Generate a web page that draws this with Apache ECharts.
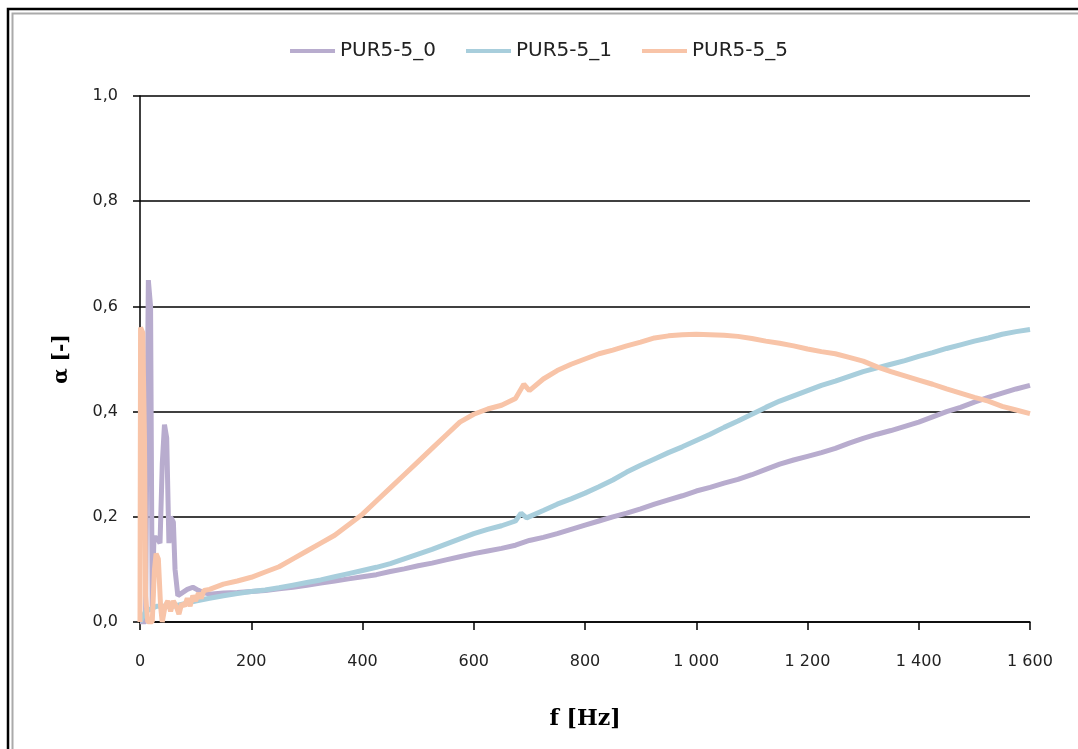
<!DOCTYPE html>
<html>
<head>
<meta charset="utf-8">
<script src="https://cdn.jsdelivr.net/npm/echarts@6/dist/echarts.min.js"></script>
<style>html,body{margin:0;padding:0;background:#fff;}#c{width:1078px;height:749px;}</style>
</head>
<body>
<div id="c"></div>
<script>
// Frequencies [Hz] and absorption coefficient values
const seriesNames = ['PUR5-5_0', 'PUR5-5_1', 'PUR5-5_5'];
const xTicks = [0, 200, 400, 600, 800, 1000, 1200, 1400, 1600];
const yTicks = [0, 0.2, 0.4, 0.6, 0.8, 1.0];

const f0 = [0, 10, 12, 15, 19, 22, 25, 30, 36, 40, 44, 48, 52, 55, 60, 63, 68, 75, 85, 95, 105, 115, 125,
  150, 175, 200, 225, 250, 275, 300, 325, 350, 375, 400, 425, 450, 475, 500, 525, 550, 575, 600, 625, 650, 675,
  700, 725, 750, 775, 800, 825, 850, 875, 900, 925, 950, 975, 1000, 1025, 1050, 1075, 1100, 1125, 1150, 1175,
  1200, 1225, 1250, 1275, 1300, 1325, 1350, 1375, 1400, 1425, 1450, 1475, 1500, 1525, 1550, 1575, 1600];
const a0 = [0, 0, 0.30, 0.65, 0.60, 0.02, 0.16, 0.16, 0.15, 0.30, 0.375, 0.35, 0.15, 0.20, 0.19, 0.10, 0.05, 0.055, 0.062, 0.066, 0.06, 0.056, 0.053,
  0.055, 0.056, 0.058, 0.060, 0.063, 0.066, 0.070, 0.074, 0.078, 0.082, 0.086, 0.090, 0.096, 0.101, 0.107, 0.112, 0.118, 0.124, 0.130, 0.135, 0.140, 0.146,
  0.155, 0.161, 0.168, 0.176, 0.184, 0.192, 0.200, 0.207, 0.215, 0.224, 0.232, 0.240, 0.249, 0.256, 0.264, 0.271, 0.280, 0.290, 0.300, 0.308,
  0.315, 0.322, 0.330, 0.340, 0.349, 0.357, 0.364, 0.372, 0.380, 0.390, 0.400, 0.408, 0.418, 0.427, 0.435, 0.443, 0.450];

const f1 = [0, 10, 30, 60, 80, 100, 125, 150, 175, 200, 225, 250, 275, 300, 325, 350, 375, 400, 425, 450, 475, 500,
  525, 550, 575, 600, 625, 650, 675, 685, 695, 725, 750, 775, 800, 825, 850, 875, 900, 925, 950, 975, 1000, 1025,
  1050, 1075, 1100, 1125, 1150, 1175, 1200, 1225, 1250, 1275, 1300, 1325, 1350, 1375, 1400, 1425, 1450, 1475,
  1500, 1525, 1550, 1575, 1600];
const a1 = [0, 0.02, 0.03, 0.03, 0.035, 0.04, 0.045, 0.050, 0.054, 0.058, 0.061, 0.065, 0.070, 0.075, 0.080, 0.086, 0.092, 0.098, 0.104, 0.111, 0.120, 0.129,
  0.138, 0.148, 0.158, 0.168, 0.176, 0.183, 0.192, 0.207, 0.198, 0.212, 0.224, 0.234, 0.245, 0.257, 0.270, 0.285, 0.298, 0.310, 0.322, 0.333, 0.345, 0.357,
  0.370, 0.382, 0.395, 0.408, 0.420, 0.430, 0.440, 0.450, 0.458, 0.467, 0.476, 0.483, 0.490, 0.497, 0.505, 0.512, 0.520, 0.527,
  0.534, 0.540, 0.547, 0.552, 0.556];

const f5 = [0, 1, 5, 8, 10, 14, 22, 26, 29, 33, 37, 40, 45, 50, 55, 60, 65, 70, 75, 80, 85, 90, 95, 100, 105, 110, 115,
  125, 150, 175, 200, 225, 250, 275, 300, 325, 350, 375, 400, 425, 450, 475, 500, 525, 550, 575, 600, 625, 650, 675,
  690, 700, 725, 750, 775, 800, 825, 850, 875, 900, 925, 950, 975, 1000, 1025, 1050, 1075, 1100, 1125, 1150, 1175,
  1200, 1225, 1250, 1275, 1300, 1325, 1350, 1375, 1400, 1425, 1450, 1475, 1500, 1525, 1550, 1575, 1600];
const a5 = [0, 0.56, 0.55, 0.35, 0.05, 0, 0, 0.10, 0.13, 0.12, 0.03, 0, 0.03, 0.04, 0.02, 0.04, 0.03, 0.015, 0.035, 0.03, 0.045, 0.03, 0.05, 0.04, 0.055, 0.045, 0.06,
  0.062, 0.072, 0.078, 0.085, 0.095, 0.105, 0.120, 0.135, 0.150, 0.165, 0.185, 0.205, 0.230, 0.255, 0.280, 0.305, 0.330, 0.355, 0.380, 0.395, 0.405, 0.412, 0.425,
  0.452, 0.440, 0.462, 0.478, 0.490, 0.500, 0.510, 0.517, 0.525, 0.532, 0.540, 0.544, 0.546, 0.547, 0.546, 0.545, 0.543, 0.539, 0.534, 0.530, 0.525,
  0.519, 0.514, 0.510, 0.503, 0.496, 0.485, 0.476, 0.468, 0.460, 0.452, 0.443, 0.435, 0.427, 0.420, 0.410, 0.403, 0.396];

const colors = ['#B8ACCE', '#A8CEDC', '#F8C4A8'];

function pairs(xs, ys) { return xs.map((x, i) => [x, ys[i]]); }

const chart = echarts.init(document.getElementById('c'), null, {renderer: 'canvas'});
const tickFont = 'DejaVu Sans';
chart.setOption({
  animation: false,
  backgroundColor: '#fff',
  color: colors,
  graphic: [
    {type: 'rect', shape: {x: 8, y: 9, width: 1100, height: 800}, style: {fill: 'none', stroke: '#000', lineWidth: 2.5}, silent: true},
    {type: 'rect', shape: {x: 12.5, y: 13.5, width: 1100, height: 800}, style: {fill: 'none', stroke: '#aaa', lineWidth: 2}, silent: true}
  ],
  legend: {
    top: 36, left: 'center',
    itemWidth: 45, itemHeight: 4, itemGap: 30,
    icon: 'rect',
    textStyle: {fontFamily: tickFont, fontSize: 20, color: '#222'},
    data: seriesNames
  },
  grid: {left: 140, right: 48, top: 96, bottom: 127, containLabel: false},
  xAxis: {
    type: 'value', min: xTicks[0], max: xTicks[xTicks.length - 1], interval: 200,
    name: 'f [Hz]', nameLocation: 'middle', nameGap: 86,
    nameTextStyle: {fontFamily: 'DejaVu Serif', fontWeight: 'bold', fontSize: 22, color: '#000'},
    axisLine: {show: true, lineStyle: {color: '#000', width: 1.5}},
    axisTick: {show: true, length: 8, lineStyle: {color: '#000', width: 1.5}},
    axisLabel: {fontFamily: tickFont, fontSize: 16, color: '#222', margin: 32,
      formatter: v => String(v).replace(/\B(?=(\d{3})+(?!\d))/g, ' ')},
    splitLine: {show: false}
  },
  yAxis: {
    type: 'value', min: yTicks[0], max: yTicks[yTicks.length - 1], interval: 0.2,
    name: 'α [-]', nameLocation: 'middle', nameGap: 68, nameRotate: 90,
    nameTextStyle: {fontFamily: 'DejaVu Serif', fontWeight: 'bold', fontSize: 20, color: '#000'},
    axisLine: {show: true, lineStyle: {color: '#000', width: 1.5}},
    axisTick: {show: true, length: 7, lineStyle: {color: '#000', width: 1.5}},
    axisLabel: {fontFamily: tickFont, fontSize: 16, color: '#222', margin: 22,
      formatter: v => v.toFixed(1).replace('.', ',')},
    splitLine: {show: true, lineStyle: {color: '#000', width: 1.5}}
  },
  series: [
    {name: seriesNames[0], type: 'line', showSymbol: false, data: pairs(f0, a0), lineStyle: {width: 5, color: colors[0]}, z: 2},
    {name: seriesNames[1], type: 'line', showSymbol: false, data: pairs(f1, a1), lineStyle: {width: 5, color: colors[1]}, z: 3},
    {name: seriesNames[2], type: 'line', showSymbol: false, data: pairs(f5, a5), lineStyle: {width: 5, color: colors[2]}, z: 4}
  ]
});
</script>
</body>
</html>
